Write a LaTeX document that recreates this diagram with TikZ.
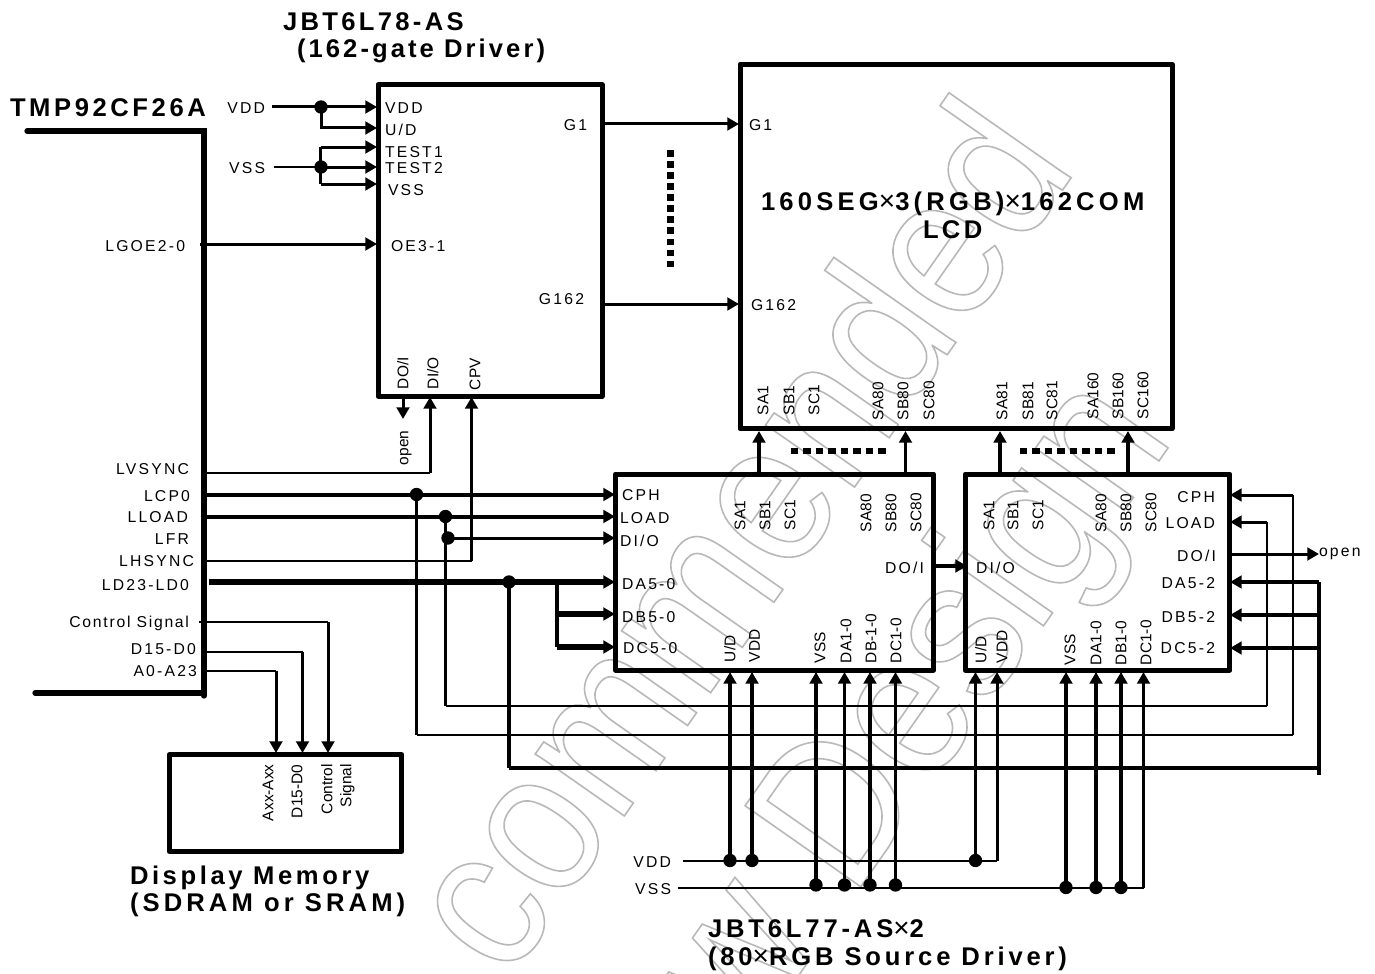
\documentclass[tikz,border=0pt]{standalone}
\usepackage{fontspec}
\setmainfont{Liberation Sans}
\usetikzlibrary{arrows.meta}
\newfontfamily\labf{Liberation Sans}[LetterSpace=14]
\newfontfamily\titf{Liberation Sans}[LetterSpace=13]
\newfontfamily\wmf{Liberation Sans}[FakeStretch=0.88]
\newcommand\outl[1]{\special{pdf: code q 1 Tr 1.2 w 0.72 0.72 0.72 RG}#1\special{pdf: code Q}}
\newcommand\tms{{\fontsize{21pt}{21pt}\selectfont\mdseries\addfontfeature{LetterSpace=0}×}}
\newcommand\tfs[1]{\fontsize{19.2pt}{20pt}\titf\bfseries\addfontfeature{LetterSpace=#1}}
\newcount\lc
% horizontal label: [anchor]{x,y}{text}
\newcommand\lab[3][west]{\global\advance\lc by 1 \node[lab,anchor=#1] (t\the\lc) at (#2) {#3};}
\newcommand\rlab[2]{\global\advance\lc by 1 \node[rlabst] (t\the\lc) at (#1) {#2};}
\tikzset{
  lab/.style={inner sep=0pt,outer sep=0pt,text height=8.4pt,text depth=0pt,font=\fontsize{11.8pt}{12pt}\labf},
  rlabst/.style={inner sep=0pt,outer sep=0pt,rotate=90,anchor=west,text height=8.2pt,text depth=0pt,font=\fontsize{11.6pt}{12pt}\selectfont},
  ttl/.style={inner sep=0pt,outer sep=0pt,anchor=west,text height=13.7pt,text depth=0pt,font=\tfs{13}},
  blk/.style={draw,line width=3.75pt,line join=round,inner sep=0pt,outer sep=0pt},
  dot/.style={circle,fill=black,inner sep=0pt,outer sep=0pt,minimum size=10pt},
  wa/.style={line width=2.25pt},
  wt/.style={line width=1.5pt},
  wv/.style={line width=2.7pt},
  wb/.style={line width=3pt},
  wc/.style={line width=4.2pt},
  tip/.style={-{Triangle[length=8.8pt,width=9.5pt]}},
  dotsbar/.style={line width=4.5pt,dash pattern=on 5.8pt off 3.6pt},
  wm/.style={inner sep=0pt,outer sep=0pt,rotate=55,anchor=base east,font=\fontsize{154pt}{154pt}\wmf},
}
\begin{document}
\begin{tikzpicture}[x=0.75pt,y=-0.75pt,line cap=butt]
\useasboundingbox (0,0) rectangle (1375,974);
% watermark
\begin{scope}
\clip (0,0) rectangle (1375,974);
\node[wm] (wm1) at (1078,168) {\outl{commended}};
\node[wm] (wm2) at (1175,438) {\outl{w Design}};
\end{scope}
% blocks
\node[blk,minimum width=168pt,minimum height=233.5pt] (gate) at (490,240.5) {};
\node[blk,minimum width=324pt,minimum height=273.5pt] (lcd) at (956,246.5) {};
\node[blk,minimum width=238.5pt,minimum height=147pt] (srcA) at (774.5,572) {};
\node[blk,minimum width=198.5pt,minimum height=147pt] (srcB) at (1097.5,572) {};
\node[blk,minimum width=174.5pt,minimum height=72.5pt] (mem) at (285.5,803) {};
% controller bus
\coordinate (busTL) at (27,131);
\coordinate (busTR) at (204,131);
\coordinate (busBR) at (204,696);
\coordinate (busBL) at (35,693);
\coordinate (busB2) at (204,693);
\draw[line width=3.9pt,line cap=round] (busTL) -- (busTR) -- (busBR);
\draw[line width=3.9pt,line cap=round] (busBL) -- (busB2);
% titles
\node[ttl,font=\tfs{14}] (tTmp) at (10,107) {TMP92CF26A};
\node[ttl] (tGate) at (283,21) {JBT6L78-AS};
\node[ttl,font=\tfs{12}] (tGate2) at (297,48) {(162-gate Driver)};
\node[ttl,font=\tfs{16.5}] (tLcd) at (761,201) {160SEG\tms 3(RGB)\tms 162COM};
\node[ttl] (tLcd2) at (923,229) {LCD};
\node[ttl,font=\tfs{14}] (tMem) at (130,875) {Display Memory};
\node[ttl,font=\tfs{16}] (tMem2) at (130,902) {(SDRAM or SRAM)};
\node[ttl,font=\tfs{15}] (tSrc) at (708,928) {JBT6L77-AS\tms 2};
\node[ttl,font=\tfs{15}] (tSrc2) at (708,956) {(80\tms RGB Source Driver)};
% gate supply
\node[dot] (jVdd) at (321,107) {};
\node[dot] (jVss) at (321,167) {};
\coordinate (vddIn) at (272,107);
\coordinate (vssIn) at (274,167);
\coordinate (gVdd) at (377,107);
\coordinate (gUd) at (377,128);
\coordinate (gUdB) at (321,128);
\coordinate (gT1) at (377,147);
\coordinate (gT1B) at (320.5,147);
\coordinate (gT2) at (377,167);
\coordinate (gVs) at (377,184);
\coordinate (gVsB) at (320.5,184);
\draw[wa] (vddIn) -- (jVdd.center);
\draw[wa,tip] (jVdd.center) -- (gVdd);
\draw[wa,tip] (jVdd.center) -- (gUdB) -- (gUd);
\draw[wt] (vssIn) -- (jVss.center);
\draw[wa,tip] (jVss.center) -- (gT2);
\draw[wa,tip] (gT1B) -- (gT1);
\draw[wa,tip] (gVsB) -- (gVs);
\draw[wa] (gT1B) -- (gVsB);
% LGOE
\coordinate (lgoe) at (200,244);
\coordinate (gOe) at (377,244);
\draw[wa,tip] (lgoe) -- (gOe);
% gate outputs
\coordinate (g1o) at (602,124);
\coordinate (g1i) at (739,124);
\coordinate (g162o) at (602,304);
\coordinate (g162i) at (739,304);
\draw[wa,tip] (g1o) -- (g1i);
\draw[wa,tip] (g162o) -- (g162i);
\coordinate (dvT) at (670.5,150);
\coordinate (dvB) at (670.5,267);
\draw[line width=5.5pt,dash pattern=on 4.9pt off 3.4pt] (dvT) -- (dvB);
% gate bottom
\coordinate (gDoS) at (403,397);
\coordinate (gDoE) at (403,419);
\draw[wa,tip] (gDoS) -- (gDoE);
\coordinate (lvsS) at (204,473);
\coordinate (lvsC) at (430,473);
\coordinate (gDi) at (430,397);
\draw[wt] (lvsS) -- (lvsC);
\draw[wa,tip] (lvsC) -- (gDi);
\coordinate (lhsS) at (204,561);
\coordinate (lhsC) at (471.5,561);
\coordinate (gCpv) at (471.5,397);
\draw[wt] (lhsS) -- (lhsC);
\draw[wa,tip] (lhsC) -- (gCpv);
% LCP0
\node[dot] (jCp) at (416.5,494.5) {};
\coordinate (lcpS) at (204,494.5);
\coordinate (aCph) at (615,494.5);
\coordinate (cpD) at (416.5,735);
\coordinate (cpR) at (1293,735);
\coordinate (cpU) at (1293,495);
\coordinate (bCph) at (1230,495);
\draw[wb] (lcpS) -- (jCp.center);
\draw[wb,tip] (jCp.center) -- (aCph);
\draw[wa] (jCp.center) -- (cpD);
\draw[wt] (cpD) -- (cpR);
\draw[wt] (cpR) -- (cpU);
\draw[wa,tip] (cpU) -- (bCph);
% LLOAD
\node[dot] (jLd) at (445.5,516.5) {};
\node[dot] (jDi) at (448,538) {};
\coordinate (lldS) at (204,516.5);
\coordinate (aLoad) at (615,516.5);
\coordinate (ldD) at (445.5,706);
\coordinate (ldR) at (1267,706);
\coordinate (ldU) at (1267,522);
\coordinate (bLoad) at (1230,522);
\coordinate (aDi) at (615,538);
\draw[wb] (lldS) -- (jLd.center);
\draw[wb,tip] (jLd.center) -- (aLoad);
\draw[wa] (jLd.center) -- (ldD);
\draw[wt] (ldD) -- (ldR);
\draw[wt] (ldR) -- (ldU);
\draw[wa,tip] (ldU) -- (bLoad);
\draw[wa,tip] (jDi.center) -- (aDi);
% LD23
\node[dot] (jLdd) at (509,582) {};
\coordinate (ldS) at (208.5,582);
\coordinate (aDa) at (615,582);
\coordinate (brT) at (556.5,582);
\coordinate (brB) at (556.5,647);
\coordinate (brM) at (556.5,614);
\coordinate (aDb) at (615,614);
\coordinate (aDc) at (615,647);
\coordinate (ddD) at (509,767.5);
\coordinate (ddR) at (1319,767.5);
\coordinate (ddE) at (1319,775);
\coordinate (ddU) at (1319,582);
\coordinate (bDa) at (1230,582);
\coordinate (bDb) at (1230,615);
\coordinate (bDc) at (1230,648);
\coordinate (ddM) at (1319,615);
\coordinate (ddN) at (1319,648);
\draw[wc,tip] (ldS) -- (aDa);
\draw[wb] (brT) -- (brB);
\draw[wc,tip] (brM) -- (aDb);
\draw[wc,tip] (brB) -- (aDc);
\draw[wb] (jLdd.center) -- (ddD);
\draw[wb] (ddD) -- (ddR);
\draw[wb] (ddU) -- (ddE);
\draw[wb,tip] (ddU) -- (bDa);
\draw[wb,tip] (ddM) -- (bDb);
\draw[wb,tip] (ddN) -- (bDc);
% memory
\coordinate (csS) at (199,622);
\coordinate (csC) at (328,622);
\coordinate (csE) at (328,753);
\coordinate (dS) at (205,652);
\coordinate (dC) at (302.5,652);
\coordinate (dE) at (302.5,753);
\coordinate (aS) at (205,671);
\coordinate (aC) at (276,671);
\coordinate (aE) at (276,753);
\draw[wt] (csS) -- (csC);
\draw[wa,tip] (csC) -- (csE);
\draw[wt] (dS) -- (dC);
\draw[wa,tip] (dC) -- (dE);
\draw[wt] (aS) -- (aC);
\draw[wa,tip] (aC) -- (aE);
% source to LCD
\coordinate (s1a) at (759,473);\coordinate (s1b) at (759,431);
\coordinate (s2a) at (905.5,473);\coordinate (s2b) at (905.5,431);
\coordinate (s3a) at (1000,473);\coordinate (s3b) at (1000,431);
\coordinate (s4a) at (1128,473);\coordinate (s4b) at (1128,431);
\draw[wv,tip] (s1a) -- (s1b);
\draw[wv,tip] (s2a) -- (s2b);
\draw[wv,tip] (s3a) -- (s3b);
\draw[wv,tip] (s4a) -- (s4b);
\coordinate (dh1a) at (790.5,451);\coordinate (dh1b) at (887,451);
\coordinate (dh2a) at (1019.5,451);\coordinate (dh2b) at (1116,451);
\draw[dotsbar] (dh1a) -- (dh1b);
\draw[dotsbar] (dh2a) -- (dh2b);
% DO/I links
\coordinate (aDo) at (934,566);
\coordinate (bDi) at (967,566);
\draw[wb,tip] (aDo) -- (bDi);
\coordinate (bDo) at (1230,554);
\coordinate (bDoE) at (1319,554);
\draw[wa,tip] (bDo) -- (bDoE);
% source supply
\coordinate (vdIn) at (683,861);
\coordinate (vdE) at (997,861);
\coordinate (vsIn) at (678,888);
\coordinate (vsE) at (1144,888);
\draw[wt] (vdIn) -- (vdE);
\draw[wt] (vsIn) -- (vsE);
\node[dot] (p1) at (730,860.5) {};
\node[dot] (p2) at (752,860.5) {};
\node[dot] (p3) at (975.5,860.5) {};
\node[dot] (p4) at (816,885) {};
\node[dot] (p5) at (844.5,885) {};
\node[dot] (p6) at (870,885) {};
\node[dot] (p7) at (895.5,885) {};
\node[dot] (p8) at (1066,887.5) {};
\node[dot] (p9) at (1096,887.5) {};
\node[dot] (p10) at (1121,887.5) {};
\coordinate (q1) at (730,672);
\coordinate (q2) at (752,672);
\coordinate (q3) at (975.5,672);
\coordinate (q4) at (997,672);
\coordinate (q5) at (816,672);
\coordinate (q6) at (844.5,672);
\coordinate (q7) at (870,672);
\coordinate (q8) at (895.5,672);
\coordinate (q9) at (1066,672);
\coordinate (q10) at (1096,672);
\coordinate (q11) at (1121,672);
\coordinate (q12) at (1143.5,672);
\coordinate (q13) at (1143.5,888);
\draw[wv,tip] (p1.center) -- (q1);
\draw[wv,tip] (p2.center) -- (q2);
\draw[wv,tip] (p3.center) -- (q3);
\draw[wa,tip] (vdE) -- (q4);
\draw[wv,tip] (p4.center) -- (q5);
\draw[wv,tip] (p5.center) -- (q6);
\draw[wv,tip] (p6.center) -- (q7);
\draw[wv,tip] (p7.center) -- (q8);
\draw[wv,tip] (p8.center) -- (q9);
\draw[wv,tip] (p9.center) -- (q10);
\draw[wv,tip] (p10.center) -- (q11);
\draw[wa,tip] (q13) -- (q12);
% left labels
\lab[east]{265,108}{VDD}
\lab[east]{265,168}{VSS}
\lab[east]{185,246}{LGOE2-0}
\lab[east]{189,469}{LVSYNC}
\lab[east]{190,496}{LCP0}
\lab[east]{188,517}{LLOAD}
\lab[east]{189,539}{LFR}
\lab[east]{194,561}{LHSYNC}
\lab[east]{189,585}{LD23-LD0}
\node[lab,anchor=east,font=\fontsize{11.8pt}{12pt}\labf\addfontfeature{LetterSpace=11}] (tCtl) at (189,622) {Control Signal};
\lab[east]{196,649}{D15-D0}
\lab[east]{197,671}{A0-A23}
% gate pins
\lab{385,108}{VDD}
\lab{385,130}{U/D}
\lab{385,152}{TEST1}
\lab{385,168}{TEST2}
\lab{388,190}{VSS}
\lab{391,246}{OE3-1}
\lab[east]{587,125}{G1}
\lab[east]{584,299}{G162}
\rlab{403,389}{DO/I}
\rlab{433,389}{DI/O}
\rlab{475,390}{CPV}
\rlab{403,465}{open}
% LCD pins
\lab{749,125}{G1}
\lab{751,305}{G162}
\rlab{763,415}{SA1}
\rlab{789,415}{SB1}
\rlab{814,415}{SC1}
\rlab{878,420}{SA80}
\rlab{903,420}{SB80}
\rlab{929,420}{SC80}
\rlab{1002,420}{SA81}
\rlab{1028,420}{SB81}
\rlab{1052,420}{SC81}
\rlab{1093,419}{SA160}
\rlab{1118,419}{SB160}
\rlab{1143,419}{SC160}
% source A
\lab{622,495}{CPH}
\lab{620,518}{LOAD}
\lab{620,540.5}{DI/O}
\lab{622,584}{DA5-0}
\lab{622,617}{DB5-0}
\lab{623,648}{DC5-0}
\lab[east]{924,568}{DO/I}
\rlab{740,530}{SA1}
\rlab{765,530}{SB1}
\rlab{790,530}{SC1}
\rlab{866,532}{SA80}
\rlab{891,532}{SB80}
\rlab{916,532}{SC80}
\rlab{730,662}{U/D}
\rlab{754.5,662}{VDD}
\rlab{820,663}{VSS}
\rlab{846,663}{DA1-0}
\rlab{871,663}{DB-1-0}
\rlab{896,663}{DC1-0}
% source B
\lab{976,568}{DI/O}
\lab[east]{1215,497}{CPH}
\lab[east]{1215,523}{LOAD}
\lab[east]{1216,556}{DO/I}
\lab[east]{1215,583}{DA5-2}
\lab[east]{1215,617}{DB5-2}
\lab[east]{1215,648}{DC5-2}
\lab{1319,551}{open}
\rlab{989,530}{SA1}
\rlab{1013,530}{SB1}
\rlab{1038,530}{SC1}
\rlab{1101,532}{SA80}
\rlab{1126,532}{SB80}
\rlab{1151,532}{SC80}
\rlab{981,663}{U/D}
\rlab{1002,663}{VDD}
\rlab{1070,665}{VSS}
\rlab{1096,665}{DA1-0}
\rlab{1121,665}{DB1-0}
\rlab{1146,665}{DC1-0}
% supply labels
\lab[east]{671,861.5}{VDD}
\lab[east]{671,889}{VSS}
% memory labels
\rlab{268,821}{Axx-Axx}
\rlab{297,818}{D15-D0}
\rlab{327,814}{Control}
\rlab{346,807}{Signal}
\end{tikzpicture}
\end{document}
